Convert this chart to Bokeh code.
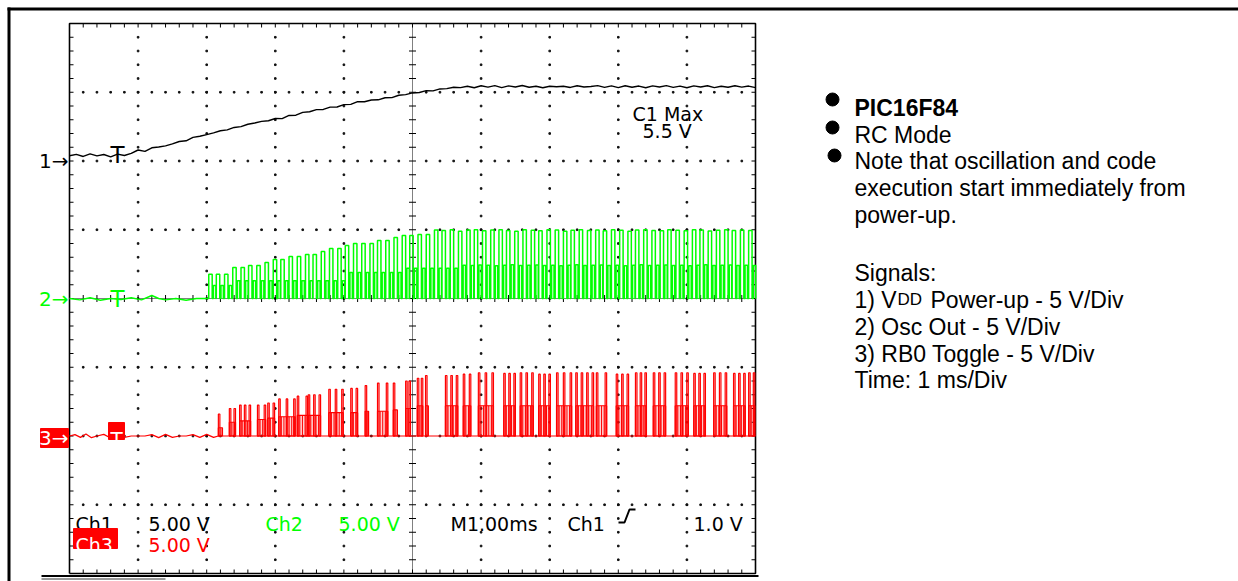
import numpy as np
from bokeh.plotting import figure
from bokeh.models import Range1d
from bokeh.core.properties import value
from bokeh.embed import file_html
from bokeh.resources import INLINE

# ---------------- data ----------------
VOLTS_PER_DIV = 5.0          # all three channels: 5 V/div
MS_PER_DIV = 1.0             # time base: 1 ms/div
CH_GROUND_DIV = {"ch1": 6.0, "ch2": 4.0, "ch3": 2.0}

# Ch1 : VDD power-up (volts), sampled every 0.1 ms
ch1_t = [0.0, 0.1, 0.2, 0.3, 0.4, 0.5, 0.6, 0.7, 0.8, 0.9,
         1.0, 1.1, 1.2, 1.3, 1.4, 1.5, 1.6, 1.7, 1.8, 1.9,
         2.0, 2.1, 2.2, 2.3, 2.4, 2.5, 2.6, 2.7, 2.8, 2.9,
         3.0, 3.1, 3.2, 3.3, 3.4, 3.5, 3.6, 3.7, 3.8, 3.9,
         4.0, 4.1, 4.2, 4.3, 4.4, 4.5, 4.6, 4.7, 4.8, 4.9,
         5.0, 5.1, 5.2, 5.3, 5.4, 5.5, 5.6, 5.7, 5.8, 5.9,
         6.0, 6.1, 6.2, 6.3, 6.4, 6.5, 6.6, 6.7, 6.8, 6.9,
         7.0, 7.1, 7.2, 7.3, 7.4, 7.5, 7.6, 7.7, 7.8, 7.9,
         8.0, 8.1, 8.2, 8.3, 8.4, 8.5, 8.6, 8.7, 8.8, 8.9,
         9.0, 9.1, 9.2, 9.3, 9.4, 9.5, 9.6, 9.7, 9.8, 9.9, 10.0]
ch1_v = [0.38, 0.48, 0.33, 0.52, 0.37, 0.47, 0.30, 0.50, 0.40, 0.56,
         0.80, 0.70, 0.96, 1.02, 1.10, 1.24, 1.42, 1.47, 1.72, 1.80,
         1.92, 2.05, 2.20, 2.26, 2.44, 2.50, 2.67, 2.76, 2.88, 2.93,
         3.09, 3.08, 3.31, 3.33, 3.54, 3.58, 3.74, 3.75, 3.92, 3.93,
         4.10, 4.12, 4.32, 4.31, 4.44, 4.45, 4.60, 4.61, 4.78, 4.83,
         4.95, 4.98, 5.12, 5.10, 5.24, 5.26, 5.36, 5.34, 5.44, 5.33,
         5.47, 5.37, 5.48, 5.34, 5.46, 5.38, 5.49, 5.36, 5.44, 5.33,
         5.44, 5.40, 5.44, 5.35, 5.47, 5.38, 5.42, 5.48, 5.35, 5.46,
         5.34, 5.47, 5.36, 5.45, 5.33, 5.46, 5.38, 5.48, 5.35, 5.45,
         5.33, 5.46, 5.38, 5.47, 5.34, 5.44, 5.36, 5.47, 5.37, 5.45, 5.34]

# Ch2 : oscillator output (volts)
ch2_pre_t = [0.0, 0.15, 0.3, 0.45, 0.6, 0.75, 0.9, 1.05, 1.2, 1.3, 1.4, 1.55, 1.7, 1.85, 2.03]
ch2_pre_v = [0.0, -0.1, 0.05, -0.12, 0.0, -0.08, 0.05, -0.1, 0.22, 0.0, -0.1, 0.0, -0.12, 0.0, 0.0]
ch2_cycle_t = [2.03, 2.14, 2.26, 2.38, 2.50, 2.61, 2.73, 2.85, 2.97, 3.08,
               3.20, 3.32, 3.44, 3.55, 3.67, 3.79, 3.91, 4.02, 4.14, 4.26,
               4.38, 4.49, 4.61, 4.73, 4.85, 4.96, 5.08, 5.20, 5.32, 5.43,
               5.55, 5.67, 5.79, 5.90, 6.02, 6.14, 6.26, 6.37, 6.49, 6.61,
               6.73, 6.84, 6.96, 7.08, 7.20, 7.31, 7.43, 7.55, 7.67, 7.78,
               7.90, 8.02, 8.14, 8.25, 8.37, 8.49, 8.61, 8.72, 8.84, 8.96,
               9.08, 9.19, 9.31, 9.43, 9.55, 9.66, 9.78, 9.90]
ch2_high_v = [1.77, 1.77, 1.77, 2.25, 2.25, 2.40, 2.40, 2.62, 2.84, 2.84,
              3.05, 3.05, 3.20, 3.20, 3.42, 3.64, 3.64, 3.85, 4.00, 4.00,
              4.00, 4.22, 4.22, 4.44, 4.58, 4.58, 4.65, 4.65, 4.98, 4.95,
              5.00, 4.90, 4.98, 5.00, 4.92, 4.98, 5.00, 4.95, 4.90, 5.00,
              4.97, 4.93, 5.00, 4.98, 4.90, 4.96, 5.00, 4.94, 4.99, 4.92,
              5.00, 4.97, 4.90, 4.98, 5.00, 4.95, 4.92, 5.00, 4.96, 4.93,
              5.00, 4.98, 4.91, 4.97, 5.00, 4.94, 4.99, 4.95]
ch2_mid_v = [0.95, 0.95, 0.95, 1.30, 1.30, 1.30, 1.30, 1.30, 1.30, 1.30,
             1.30, 1.30, 1.30, 1.30, 1.30, 1.30, 1.30, 1.90, 1.90, 1.90,
             1.90, 1.90, 1.90, 1.90, 2.20, 2.20, 2.20, 2.20, 2.20, 2.20,
             2.20, 2.42, 2.40, 2.44, 2.42, 2.38, 2.42, 2.45, 2.40, 2.42,
             2.44, 2.40, 2.42, 2.38, 2.42, 2.45, 2.40, 2.42, 2.44, 2.40,
             2.42, 2.38, 2.42, 2.45, 2.40, 2.42, 2.44, 2.40, 2.42, 2.38,
             2.42, 2.45, 2.40, 2.42, 2.44, 2.40, 2.42, 2.40]

# Ch3 : RB0 toggle (volts)
ch3_pre_t = [0.0, 0.08, 0.16, 0.24, 0.32, 0.40, 0.5, 0.6, 0.7, 0.8, 0.9, 1.0,
             1.1, 1.2, 1.3, 1.4, 1.5, 1.6, 1.7, 1.8, 1.9, 2.0, 2.1, 2.17]
ch3_pre_v = [0.0, 0.1, -0.1, 0.15, -0.12, 0.0, 0.12, -0.15, 0.1, -0.1, 0.0, 0.0,
             0.0, 0.1, -0.12, 0.12, -0.1, 0.0, 0.0, 0.1, -0.1, 0.12, -0.1, 0.0]
ch3_burst_start = [2.17, 2.33, 2.48, 2.74, 2.89, 3.05, 3.32, 3.48, 3.78, 4.10, 4.31,
                   4.49, 4.72, 4.90, 5.07, 5.19, 5.48, 5.74, 5.96, 6.33, 6.57, 6.84,
                   7.10, 7.38, 7.68, 7.97, 8.25, 8.51, 8.83, 9.10, 9.39, 9.68, 9.90]
ch3_burst_end = [2.23, 2.42, 2.64, 2.86, 2.99, 3.29, 3.47, 3.66, 3.99, 4.20, 4.36,
                 4.64, 4.78, 4.97, 5.15, 5.23, 5.66, 5.85, 6.18, 6.50, 6.76, 7.01,
                 7.32, 7.64, 7.83, 8.15, 8.41, 8.69, 9.02, 9.27, 9.58, 9.85, 9.99]
ch3_burst_high = [1.6, 2.0, 2.25, 2.25, 2.4, 2.7, 2.9, 3.0, 3.4, 3.46, 3.67,
                  3.85, 3.85, 4.0, 4.2, 4.4, 4.4, 4.5, 4.6, 4.55, 4.6, 4.5,
                  4.6, 4.6, 4.6, 4.5, 4.6, 4.6, 4.6, 4.55, 4.6, 4.55, 4.6]
ch3_burst_mid = [0.6, 1.0, 1.1, 1.2, 1.3, 1.4, 1.5, 1.5, 1.7, 1.7, 1.8,
                 1.8, 1.9, 2.0, 2.2, 2.2, 2.2, 2.2, 2.2, 2.2, 2.2, 2.2,
                 2.2, 2.2, 2.2, 2.2, 2.2, 2.2, 2.2, 2.2, 2.2, 2.2, 2.2]
ch3_burst_spikes = [1, 2, 3, 2, 2, 3, 2, 3, 3, 2, 1,
                    2, 1, 2, 2, 1, 3, 2, 3, 3, 3, 3,
                    3, 4, 2, 3, 3, 3, 3, 3, 3, 3, 2]

# ---------------- page geometry (pixels) ----------------
W, H = 1238, 581
GX0, GX1, GY0, GY1 = 69, 755, 23, 573
NX, NY = 10, 8
PX_X = (GX1 - GX0) / NX
PX_Y = (GY1 - GY0) / NY


def X(px):
    return (px - GX0) / PX_X


def Y(py):
    return (GY1 - py) / PX_Y


y0, y1 = Y(H), Y(0)
p = figure(width=W, height=H, output_backend="svg", toolbar_location=None,
           x_range=Range1d(X(0), X(W)), y_range=Range1d(y0, y1),
           x_axis_type=None, y_axis_type=None, min_border=0)
p.outline_line_color = None
p.background_fill_color = "white"
p.border_fill_color = "white"
for name, g in CH_GROUND_DIV.items():
    p.extra_y_ranges[name] = Range1d((y0 - g) * VOLTS_PER_DIV, (y1 - g) * VOLTS_PER_DIV)

BLACK, GREEN, RED = "#000000", "#00ff00", "#ff0000"

# ---------------- page frame ----------------
p.segment(x0=[X(7), X(8.5)], y0=[Y(8.5), Y(7)], x1=[X(W), X(8.5)], y1=[Y(8.5), Y(H)],
          line_color=BLACK, line_width=3)
p.segment(x0=[X(41)], y0=[Y(575.5)], x1=[X(758)], y1=[Y(575.5)], line_color=BLACK, line_width=2)
p.segment(x0=[X(41)], y0=[Y(578.5)], x1=[X(165)], y1=[Y(578.5)], line_color="#777777", line_width=1.5)

# ---------------- graticule ----------------
minor_x = np.arange(1, NX * 5) / 5.0
minor_y = np.arange(1, NY * 5) / 5.0
dx, dy = [], []
for yy in range(1, NY):
    if yy == NY // 2:
        continue
    for xx in minor_x:
        if abs(xx - NX / 2) > 1e-6:
            dx.append(xx); dy.append(yy)
for xx in range(1, NX):
    if xx == NX // 2:
        continue
    for yy in minor_y:
        dx.append(xx); dy.append(yy)
p.scatter(dx, dy, marker="square", size=1.6, color="#111111")

tlx, tly = 4 / PX_X, 4 / PX_Y
sx0, sy0, sx1, sy1 = [], [], [], []
for xx in minor_x:
    sx0 += [xx, xx]; sy0 += [NY, 0]; sx1 += [xx, xx]; sy1 += [NY - tly, tly]
for yy in minor_y:
    sx0 += [0, NX]; sy0 += [yy, yy]; sx1 += [tlx, NX - tlx]; sy1 += [yy, yy]
cx, cy = 3.5 / PX_X, 3.5 / PX_Y
for yy in minor_y:
    sx0.append(NX / 2 - cx); sy0.append(yy); sx1.append(NX / 2 + cx); sy1.append(yy)
for xx in minor_x:
    sx0.append(xx); sy0.append(NY / 2 - cy); sx1.append(xx); sy1.append(NY / 2 + cy)
p.segment(sx0, sy0, sx1, sy1, line_color=BLACK, line_width=1)
p.line([NX / 2, NX / 2], [0, NY], line_color=BLACK, line_width=1, line_dash="1 1")
p.line([0, NX], [NY / 2, NY / 2], line_color=BLACK, line_width=1, line_dash="1 1")
p.line([0, NX, NX, 0, 0], [0, 0, NY, NY, 0], line_color=BLACK, line_width=1.6)

# ---------------- traces ----------------
p.line(ch1_t, ch1_v, y_range_name="ch1", line_color=BLACK, line_width=1.4)

TALL_W, SHORT_OFF, SHORT_W = 0.05, 0.068, 0.035
xs, ys = list(ch2_pre_t), list(ch2_pre_v)
for t0, hi, mid in zip(ch2_cycle_t, ch2_high_v, ch2_mid_v):
    xs += [t0, t0, t0 + TALL_W, t0 + TALL_W,
           t0 + SHORT_OFF, t0 + SHORT_OFF, t0 + SHORT_OFF + SHORT_W, t0 + SHORT_OFF + SHORT_W]
    ys += [0, hi, hi, 0, 0, mid, mid, 0]
xs.append(NX * MS_PER_DIV); ys.append(0)
p.line(xs, ys, y_range_name="ch2", line_color=GREEN, line_width=1.5)

p.line(ch3_pre_t + [NX * MS_PER_DIV], ch3_pre_v + [0], y_range_name="ch3",
       line_color=RED, line_width=1.2)
p.quad(left=ch3_burst_start, right=ch3_burst_end, bottom=0, top=ch3_burst_mid,
       y_range_name="ch3", fill_color=RED, fill_alpha=0.18, line_color=RED, line_width=1.2)
# dense toggling inside each burst, drawn as vertical strokes (display hatching)
HATCH = 2.6 / PX_X
hx, hy = [], []
for a, b, mid in zip(ch3_burst_start, ch3_burst_end, ch3_burst_mid):
    for q in np.arange(a + HATCH, b, HATCH):
        hx.append([q, q]); hy.append([0, mid])
p.multi_line(hx, hy, y_range_name="ch3", line_color=RED, line_width=1)
SPIKE_W = 0.022
sl, sr, st = [], [], []
for a, b, hi, n in zip(ch3_burst_start, ch3_burst_end, ch3_burst_high, ch3_burst_spikes):
    pos = [a] if n == 1 else list(np.linspace(a, b - SPIKE_W, n))
    for q in pos:
        sl.append(q); sr.append(q + SPIKE_W); st.append(hi)
p.quad(left=sl, right=sr, bottom=0, top=st, y_range_name="ch3",
       fill_color=None, line_color=RED, line_width=1.2)

# ---------------- scope annotations ----------------
SCOPE_FONT = value("DejaVu Sans")


def txt(px, py, s, color, size, align="left", base="alphabetic", font=SCOPE_FONT, style="normal"):
    p.text(x=[X(px)], y=[Y(py)], text=[s], text_color=color, text_font=font,
           text_font_size=value(f"{size}px"), text_align=align, text_baseline=base,
           text_font_style=style)


txt(68, 160.5, "1\u2192", BLACK, 20, align="right", base="middle")
txt(68, 298, "2\u2192", GREEN, 20, align="right", base="middle")
p.quad(left=[X(40)], right=[X(68)], top=[Y(428)], bottom=[Y(447)], fill_color=RED, line_color=RED)
txt(68, 437.5, "3\u2192", "white", 20, align="right", base="middle")

txt(117, 154, "T", BLACK, 23, align="center")
txt(117, 298, "T", GREEN, 23, align="center")
p.quad(left=[X(108)], right=[X(124)], top=[Y(422)], bottom=[Y(439)], fill_color=RED, line_color=RED)
txt(116, 438, "T", "white", 20, align="center")

txt(632, 113, "C1 Max", BLACK, 19)
txt(642, 130, "5.5 V", BLACK, 19)

txt(75, 523, "Ch1", BLACK, 19)
txt(148, 523, "5.00 V", BLACK, 19)
txt(265, 523, "Ch2", GREEN, 19)
txt(338, 523, "5.00 V", GREEN, 19)
txt(450, 523, "M1.00ms", BLACK, 19)
txt(567, 523, "Ch1", BLACK, 19)
p.line([X(618), X(624), X(629), X(635)], [Y(522), Y(522), Y(509), Y(509)],
       line_color=BLACK, line_width=2)
txt(693, 523, "1.0 V", BLACK, 19)
p.quad(left=[X(73)], right=[X(117)], top=[Y(528)], bottom=[Y(548)], fill_color=RED, line_color=RED)
txt(75, 544, "Ch3", "white", 19)
txt(148, 544, "5.00 V", RED, 19)

# ---------------- description panel ----------------
PANEL_FONT = value("Liberation Sans")
p.scatter([X(832), X(832), X(834)], [Y(99), Y(127), Y(155)], marker="circle", size=13,
          color=BLACK)
LX = 854
txt(LX, 107, "PIC16F84", BLACK, 23, font=PANEL_FONT, style="bold")
txt(LX, 134, "RC Mode", BLACK, 23, font=PANEL_FONT)
txt(LX, 160, "Note that oscillation and code", BLACK, 23, font=PANEL_FONT)
txt(LX, 187, "execution start immediately from", BLACK, 23, font=PANEL_FONT)
txt(LX, 214, "power-up.", BLACK, 23, font=PANEL_FONT)
txt(LX, 272, "Signals:", BLACK, 23, font=PANEL_FONT)
txt(LX, 299, "1) V", BLACK, 23, font=PANEL_FONT)
txt(897, 299, "DD", BLACK, 17, font=PANEL_FONT)
txt(930, 299, "Power-up - 5 V/Div", BLACK, 23, font=PANEL_FONT)
txt(LX, 326, "2) Osc Out - 5 V/Div", BLACK, 23, font=PANEL_FONT)
txt(LX, 353, "3) RB0 Toggle - 5 V/Div", BLACK, 23, font=PANEL_FONT)
txt(LX, 379, "Time: 1 ms/Div", BLACK, 23, font=PANEL_FONT)

open("out.html", "w").write(file_html(p, INLINE))
